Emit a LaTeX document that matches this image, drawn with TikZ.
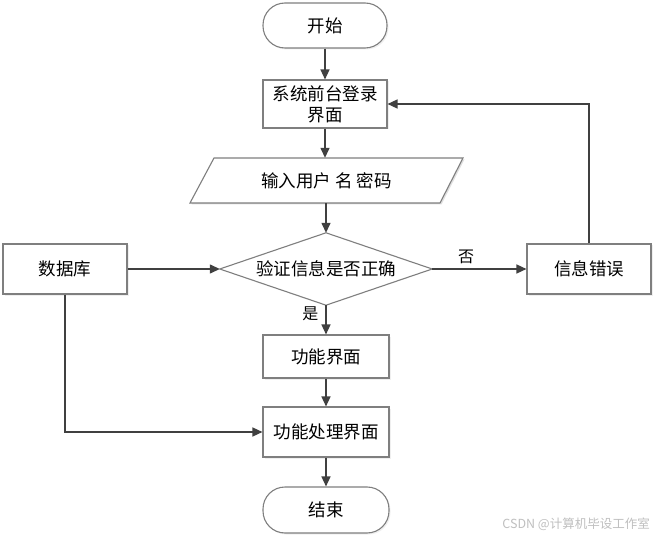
\documentclass[tikz,border=0pt]{standalone}
\usepackage{fontspec}
\setmainfont{Noto Sans CJK SC}
\usetikzlibrary{arrows.meta,shadows}
\definecolor{linec}{HTML}{404040}
\definecolor{boxc}{HTML}{7F7F7F}
\tikzset{
  box/.style={draw=boxc, line width=1.1pt, fill=white, inner sep=0pt, align=center,
    font=\fontsize{17.5}{21}\selectfont,
    drop shadow={opacity=0.12, shadow xshift=1.5pt, shadow yshift=-1.5pt}},
  term/.style={box, rounded corners=22pt},
  plain/.style={inner sep=0pt, align=center, font=\fontsize{17.5}{21}\selectfont},
  conn/.style={draw=linec, line width=1.4pt, -{Triangle[length=10pt,width=9pt]}},
  lab/.style={inner sep=0pt, font=\fontsize{16}{18}\selectfont}
}
\begin{document}
\begin{tikzpicture}[x=1pt,y=-1pt]
\useasboundingbox (0,0) rectangle (656,540);
\fill[white] (0,0) rectangle (656,540);
% nodes
\node[term, minimum width=124pt, minimum height=45pt] (start) at (325,25.5) {开始};
\node[box, minimum width=124pt, minimum height=48pt] (login) at (325,104) {系统前台登录\\界面};
\fill[black, opacity=0.12] (215.5,159.5) -- (464.5,159.5) -- (441.5,204.5) -- (191.5,204.5) -- cycle;
\node[plain, minimum width=250pt, minimum height=45pt] (input) at (326.5,180.5) {};
\draw[boxc, line width=1.1pt, fill=white] (214,158) -- (463,158) -- (440,203) -- (190,203) -- cycle;
\node[plain] at (input.center) {输入用户 名 密码};
\node[plain, minimum width=212pt, minimum height=72pt] (check) at (326,269) {};
\draw[boxc, line width=1.1pt, fill=white] (check.west) -- (check.north) -- (check.east) -- (check.south) -- cycle;
\node[plain] at (check.center) {验证信息是否正确};
\node[box, minimum width=124pt, minimum height=50pt] (db) at (65,269) {数据库};
\node[box, minimum width=124pt, minimum height=50pt] (err) at (589,269) {信息错误};
\node[box, minimum width=126pt, minimum height=43pt] (func) at (326,356.5) {功能界面};
\node[box, minimum width=126pt, minimum height=50pt] (proc) at (326,432) {功能处理界面};
\node[term, minimum width=126pt, minimum height=46pt] (end) at (326,510) {结束};
% connectors
\draw[conn] (start.south) -- (login.north);
\draw[conn] (login.south) -- (login.south |- input.north);
\draw[conn] (input.south -| check.north) -- (check.north);
\draw[conn] (check.east) -- node[lab, above=5pt, pos=0.36] {否} (err.west);
\draw[conn] (err.north) |- (login.east);
\draw[conn] (check.south) -- node[lab, left=7pt, pos=0.3] {是} (func.north);
\draw[conn] (func.south) -- (proc.north);
\draw[conn] (proc.south) -- (end.north);
\draw[conn] (db.east) -- (check.west);
\draw[conn] (db.south) |- (proc.west);
% watermark
\node[inner sep=0pt, text=black!25, font=\fontsize{12.5}{14}\selectfont, anchor=east] (wm) at (650,524) {CSDN @计算机毕设工作室};
\end{tikzpicture}
\end{document}
